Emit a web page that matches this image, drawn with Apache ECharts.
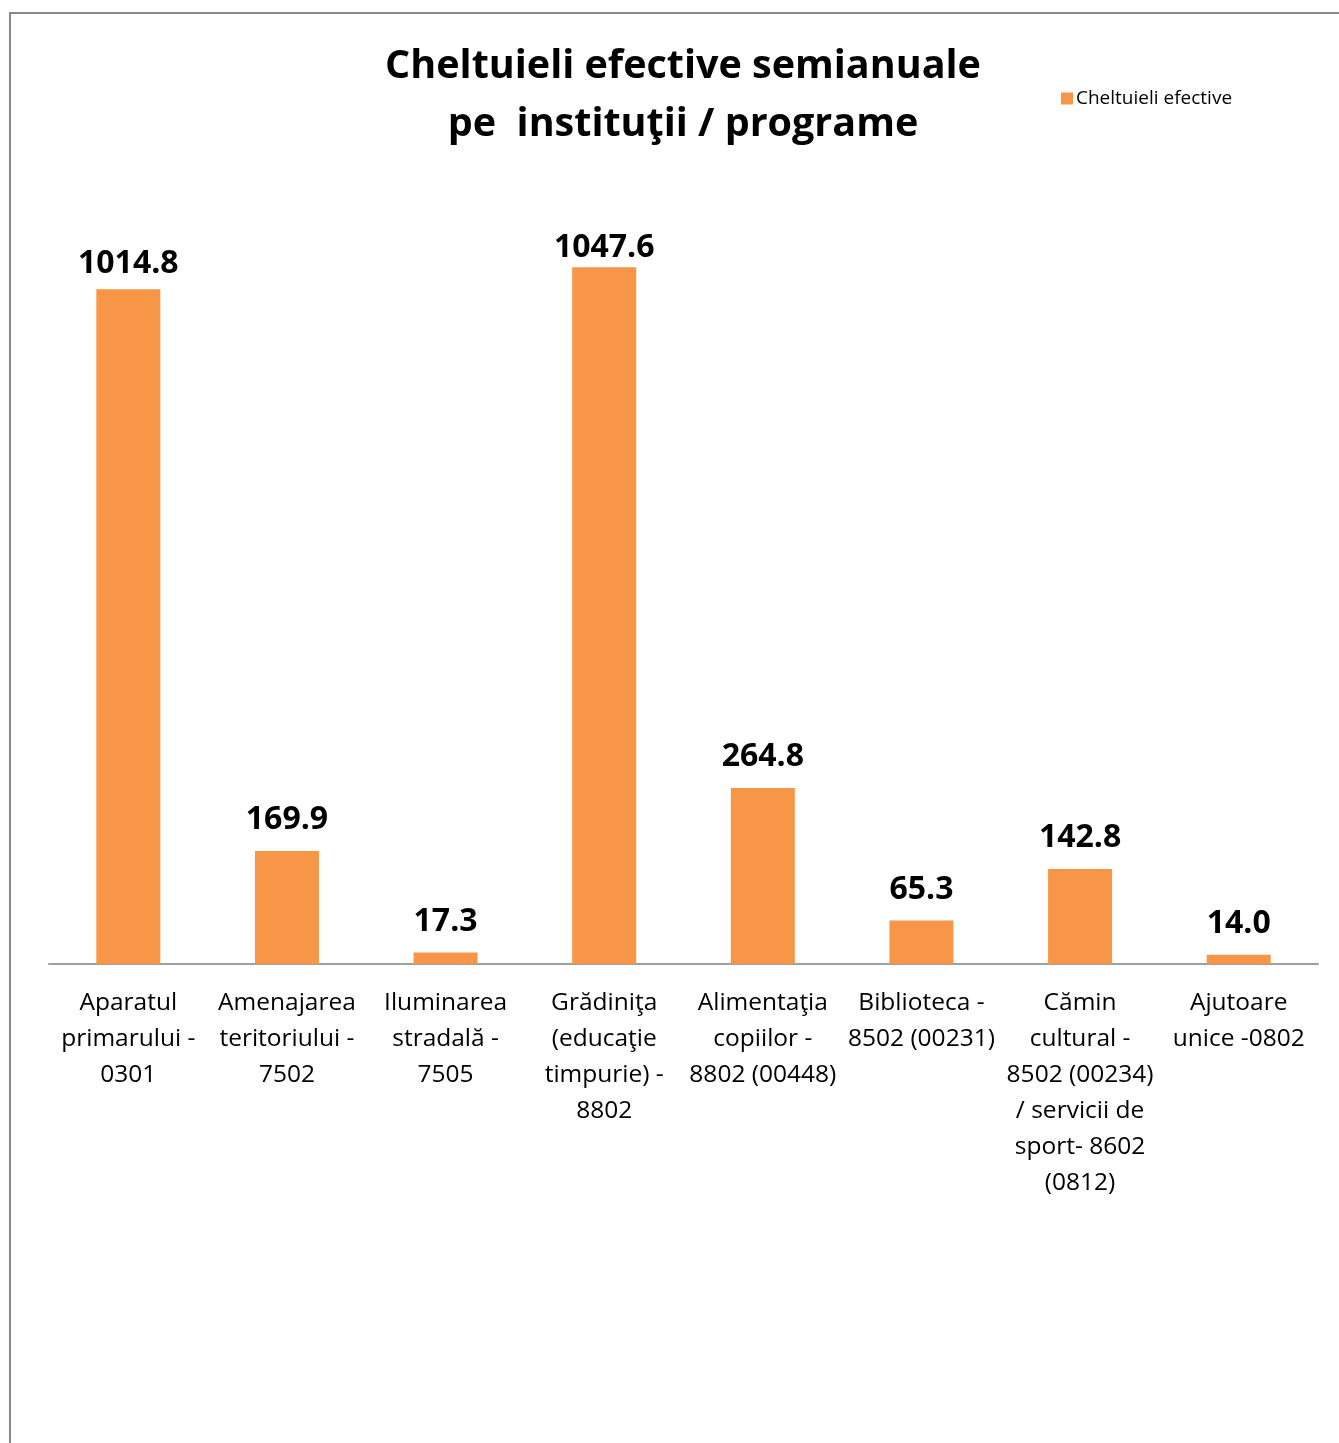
<!DOCTYPE html>
<html><head><meta charset="utf-8">
<script src="https://cdn.jsdelivr.net/npm/echarts@6/dist/echarts.min.js"></script>
<style>
html,body{margin:0;padding:0;background:#fff;}
#frame{position:absolute;left:9px;top:12px;width:1400px;height:1500px;border-left:2px solid #898989;border-top:2px solid #898989;}
#c{position:absolute;left:0;top:0;width:1339px;height:1443px;}
</style></head>
<body>
<div id="frame"></div>
<div id="c"></div>
<script>
const categories = [
  "Aparatul\nprimarului -\n0301",
  "Amenajarea\nteritoriului -\n7502",
  "Iluminarea\nstradală -\n7505",
  "Grădiniţa\n(educaţie\ntimpurie) -\n8802",
  "Alimentaţia\ncopiilor -\n8802 (00448)",
  "Biblioteca -\n8502 (00231)",
  "Cămin\ncultural -\n8502 (00234)\n/ servicii de\nsport- 8602\n(0812)",
  "Ajutoare\nunice -0802"
];
const values = [1014.8, 169.9, 17.3, 1047.6, 264.8, 65.3, 142.8, 14.0];
const seriesName = "Cheltuieli efective";
const titleText = "Cheltuieli efective semianuale\npe  instituţii / programe";

// label offsets above bars (as placed in the original)
const labelGap = [9, 15, 15, 3, 15, 15, 15, 15];

const chart = echarts.init(document.getElementById('c'), null, {renderer:'canvas'});
const FONT = "'Open Sans', 'Noto Sans', sans-serif";
chart.setOption({
  animation:false,
  backgroundColor:'transparent',
  title:{
    text:titleText, left:678, top:33, textAlign:'center',
    textStyle:{fontFamily:FONT, fontWeight:'bold', fontSize:39.5, lineHeight:58, color:'#000'}
  },
  legend:{
    data:[seriesName], left:1061, top:89, padding:0, itemWidth:12, itemHeight:12, itemGap:4,
    icon:'rect',
    textStyle:{fontFamily:FONT, fontSize:19, color:'#000', padding:[0,0,0,-2]}
  },
  grid:{left:49, right:21, top:166, bottom:479, containLabel:false},
  xAxis:{
    type:'category', data:categories,
    axisLine:{lineStyle:{color:'#a0a0a0', width:2}},
    axisTick:{show:false},
    axisLabel:{interval:0, fontFamily:FONT, fontSize:24.5, lineHeight:36, color:'#000', margin:21, verticalAlign:'top'}
  },
  yAxis:{type:'value', min:0, max:1200, show:false, splitLine:{show:false}},
  series:[{
    name:seriesName, type:'bar',
    data:values.map((v,i)=>({value:v, label:{distance:labelGap[i]}})),
    barWidth:64,
    itemStyle:{color:'#F79646'},
    label:{show:true, position:'top', formatter:p=>p.value.toFixed(1),
      fontFamily:FONT, fontWeight:'bold', fontSize:32, color:'#000'}
  }]
});
</script>
</body></html>
